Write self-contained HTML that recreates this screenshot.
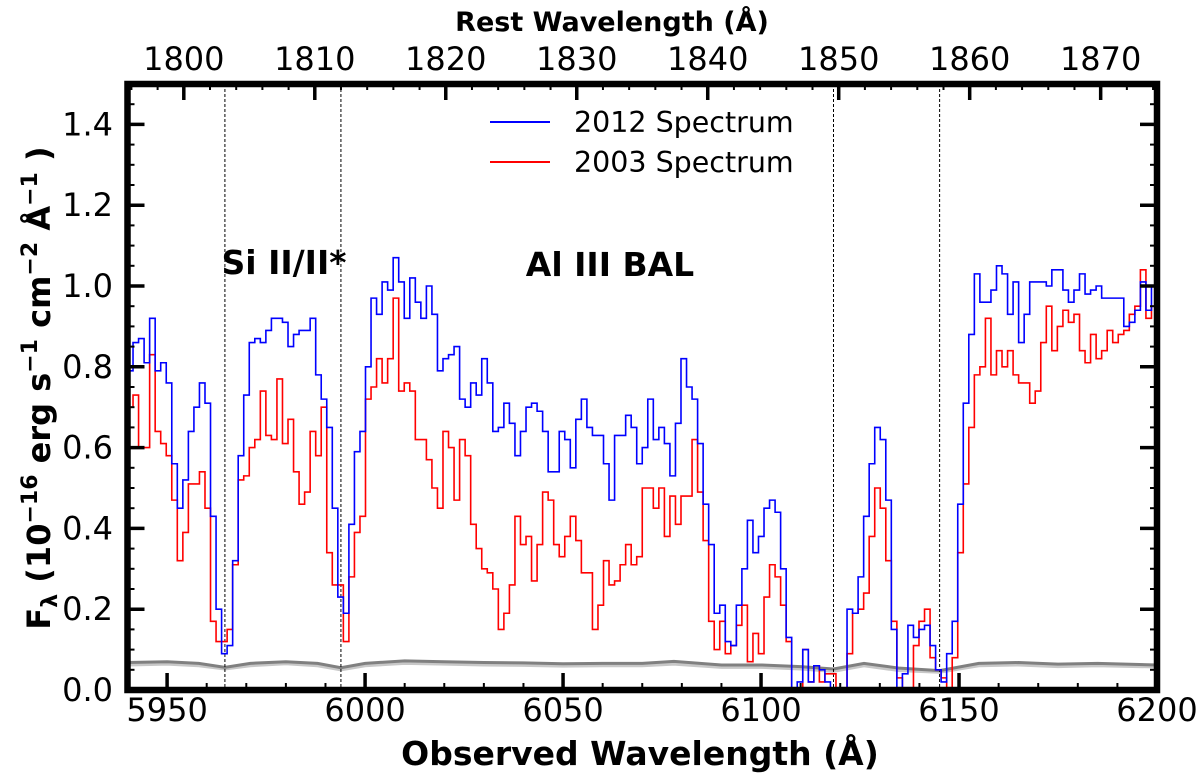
<!DOCTYPE html>
<html><head><meta charset="utf-8"><style>
html,body{margin:0;padding:0;background:#fff;}
svg{display:block;font-family:"DejaVu Sans","Liberation Sans",sans-serif;}
</style></head><body>
<svg id="chart" width="1200" height="784" viewBox="0 0 1200 784" xmlns="http://www.w3.org/2000/svg">
<defs><clipPath id="clip"><rect x="127.5" y="84" width="1029.5" height="606"/></clipPath></defs>
<g id="series" clip-path="url(#clip)"></g>
<g id="axes"></g>
<text x="612" y="31" font-size="27" font-weight="bold" text-anchor="middle">Rest Wavelength (Å)</text>
<text x="640" y="765" font-size="33" font-weight="bold" text-anchor="middle">Observed Wavelength (Å)</text>
<text transform="translate(50,388) rotate(-90)" font-size="32" font-weight="bold" text-anchor="middle">F<tspan font-size="22" dy="7">λ</tspan><tspan dy="-7"> (10</tspan><tspan font-size="22" dy="-13">−16</tspan><tspan dy="13"> erg s</tspan><tspan font-size="22" dy="-13">−1</tspan><tspan dy="13"> cm</tspan><tspan font-size="22" dy="-13">−2</tspan><tspan dy="13"> Å</tspan><tspan font-size="22" dy="-13">−1</tspan><tspan dy="13"> )</tspan></text>
<text x="284" y="274" font-size="33" font-weight="bold" text-anchor="middle">Si II/II*</text>
<text x="610" y="276" font-size="33" font-weight="bold" text-anchor="middle">Al III BAL</text>
<g>
<line x1="490" y1="122" x2="550" y2="122" stroke="#0000ff" stroke-width="2"/>
<text x="574" y="132" font-size="28.5">2012 Spectrum</text>
<line x1="490" y1="162" x2="550" y2="162" stroke="#ff0000" stroke-width="2"/>
<text x="574" y="172" font-size="28.5">2003 Spectrum</text>
</g>
</svg>
<script>
const blueValues=[0.79,0.86,0.87,0.81,0.92,0.79,0.81,0.76,0.56,0.45,0.52,0.64,0.70,0.76,0.71,0.43,0.20,0.09,0.11,0.32,0.58,0.73,0.86,0.87,0.86,0.89,0.92,0.92,0.91,0.85,0.88,0.89,0.89,0.92,0.78,0.72,0.65,0.45,0.23,0.19,0.41,0.59,0.64,0.80,0.97,0.93,
1.01,0.99,1.07,1.01,0.92,1.02,0.96,0.92,1.00,0.93,0.79,0.82,0.83,0.85,0.72,0.70,0.76,0.73,0.82,0.76,0.64,0.65,0.71,0.66,0.58,0.64,0.70,0.71,0.69,0.64,0.54,0.54,0.64,0.62,0.55,0.67,0.72,0.65,0.63,0.63,
0.56,0.47,0.63,0.63,0.68,0.65,0.56,0.60,0.72,0.62,0.65,0.61,0.53,0.66,0.82,0.75,0.72,0.61,0.46,0.36,0.19,0.21,0.12,0.11,0.21,0.30,0.42,0.34,0.38,0.45,0.47,0.44,0.30,0.13,
-0.05,0.02,0.10,0.02,0.06,0.05,
0.02,-0.05,-0.05,-0.05,0.20,0.19,0.28,0.43,0.56,0.65,0.62,0.47,0.15,-0.05,0.04,0.16,0.13,0.15,0.16,0.11,0.05,0.02,0.09,0.17,0.46,0.71,0.88,1.03,0.96,0.96,0.99,1.05,1.03,0.93,1.01,0.86,0.93,1.01,1.01,1.01,1.00,1.04,1.04,0.99,0.96,0.99,1.03,0.98,0.99,1.00,0.97,0.97,0.97,0.97,0.90,0.91,0.94,1.01,0.94,1.00];
const redValues=[0.70,0.73,0.60,0.60,0.83,0.64,0.61,0.58,0.47,0.32,0.39,0.51,0.51,0.54,0.45,0.17,0.12,0.12,0.15,0.31,0.52,0.53,0.60,0.62,0.74,0.63,0.62,0.77,0.61,0.67,0.54,0.46,0.49,0.64,0.58,0.70,0.34,0.26,0.26,0.12,0.28,0.39,0.43,0.72,0.75,0.82,
0.76,0.82,0.97,0.74,0.76,0.74,0.62,0.62,0.57,0.50,0.45,0.64,0.60,0.47,0.62,0.58,0.41,0.35,0.30,0.29,0.25,0.15,0.19,0.26,0.43,0.36,0.38,0.27,0.36,0.49,0.47,0.36,0.33,0.38,0.43,0.37,0.29,0.29,0.15,0.21,
0.32,0.26,0.27,0.31,0.36,0.31,0.33,0.50,0.50,0.45,0.50,0.38,0.48,0.41,0.48,0.48,0.62,0.49,0.37,0.17,0.10,0.17,0.09,0.11,0.16,0.21,0.07,0.14,0.09,0.23,0.31,0.28,0.21,0.12,
-0.05,-0.05,0.10,0.02,0.06,0.02,
0.04,0.04,-0.05,-0.05,0.09,0.19,0.20,0.24,0.38,0.50,0.45,0.32,0.17,0.03,-0.05,-0.05,0.11,0.17,0.20,0.08,0.05,0.03,-0.05,0.08,0.34,0.51,0.65,0.78,0.80,0.92,0.78,0.84,0.80,0.84,0.78,0.76,0.76,0.71,0.74,0.86,0.95,0.84,0.90,0.94,0.91,0.93,0.84,0.81,0.88,0.82,0.84,0.89,0.86,0.88,0.89,0.93,0.95,1.04,0.92,0.95];
const errWave=[5940,5950,5958,5964.6,5971,5980,5988,5993.9,6000,6010,6020,6030,6040,6050,6060,6070,6078,6090,6100,6110,6118.3,6126,6135,6145.1,6155,6165,6175,6185,6200];
const errValues=[0.068,0.070,0.066,0.056,0.066,0.070,0.066,0.055,0.066,0.072,0.070,0.068,0.067,0.065,0.066,0.066,0.071,0.062,0.062,0.058,0.052,0.066,0.054,0.048,0.066,0.068,0.064,0.066,0.062];
const errValuesLight=[0.062,0.064,0.060,0.052,0.060,0.065,0.060,0.050,0.060,0.066,0.064,0.062,0.061,0.059,0.060,0.060,0.064,0.056,0.056,0.052,0.046,0.060,0.048,0.044,0.060,0.062,0.058,0.060,0.057];
const markerLines=[5964.6,5993.9,6118.3,6145.1];
const xTicks=[5950,6000,6050,6100,6150,6200];
const yTicks=[0.0,0.2,0.4,0.6,0.8,1.0,1.2,1.4];
const restTicks=[1800,1810,1820,1830,1840,1850,1860,1870];
const xMin=5940,xMax=6200,yMin=0,yMax=1.5,restFactor=3.3079;
const L=127.5,R=1157,B=690,T=84;
const NS="http://www.w3.org/2000/svg";
function X(w){return L+(w-xMin)/(xMax-xMin)*(R-L);}
function Y(v){return B-(v-yMin)/(yMax-yMin)*(B-T);}
function mk(tag,attrs,parent){const e=document.createElementNS(NS,tag);for(const k in attrs)e.setAttribute(k,attrs[k]);parent.appendChild(e);return e;}
const series=document.getElementById('series'),axes=document.getElementById('axes');
function stepPath(vals){const w=(xMax-xMin)/vals.length;let d='';
 vals.forEach((v,i)=>{const x0=X(xMin+i*w),x1=X(xMin+(i+1)*w),y=Y(v);d+=(i===0?'M':'L')+x0.toFixed(2)+','+y.toFixed(2)+'L'+x1.toFixed(2)+','+y.toFixed(2);});return d;}
function linePath(ws,vs){return ws.map((w,i)=>(i?'L':'M')+X(w).toFixed(2)+','+Y(vs[i]).toFixed(2)).join('');}
let p=mk('path',{d:linePath(errWave,errValuesLight),fill:'none',stroke:'#c8c8c8','stroke-width':3},series);

p=mk('path',{d:linePath(errWave,errValues),fill:'none',stroke:'#808080','stroke-width':3},series);

markerLines.forEach(w=>{const l=mk('line',{x1:X(w),x2:X(w),y1:T,y2:B,stroke:'#000','stroke-width':1,'stroke-dasharray':'3,2'},series);
 });
p=mk('path',{d:stepPath(redValues),fill:'none',stroke:'#ff0000','stroke-width':1.6},series);

p=mk('path',{d:stepPath(blueValues),fill:'none',stroke:'#0000ff','stroke-width':1.6},series);

function tick(x1,y1,x2,y2,w){const t=mk('line',{x1,y1,x2,y2,stroke:'#000','stroke-width':w},axes);}
for(let w=5940;w<=6200;w+=10){const x=X(w);const major=w%50===0;const len=major?17:7;const sw=major?3.5:2;tick(x,B,x,B-len,sw);}
xTicks.forEach(w=>{const t=mk('text',{x:X(w),y:721,'font-size':32,'text-anchor':'middle'},axes);t.textContent=w;});
for(let i=0;i<=30;i++){const v=i*0.05;const y=Y(v);const major=i%4===0;const len=major?17:7;const sw=major?3.5:2;tick(L,y,L+len,y,sw);tick(R,y,R-len,y,sw);}
yTicks.forEach(v=>{const t=mk('text',{x:113,y:Y(v)+11,'font-size':32,'text-anchor':'end'},axes);t.textContent=v.toFixed(1);});
for(let r=1796;r<=1876;r+=2){const w=r*restFactor;if(w<xMin||w>xMax)continue;const x=X(w);const major=r%10===0;tick(x,T,x,T+(major?16:6),major?3.5:2);}
restTicks.forEach(r=>{const t=mk('text',{x:X(r*restFactor),y:70,'font-size':32,'text-anchor':'middle'},axes);t.textContent=r;});
const frame=mk('rect',{x:L,y:T,width:R-L,height:B-T,fill:'none',stroke:'#000','stroke-width':6.5},axes);

</script>
</body></html>
